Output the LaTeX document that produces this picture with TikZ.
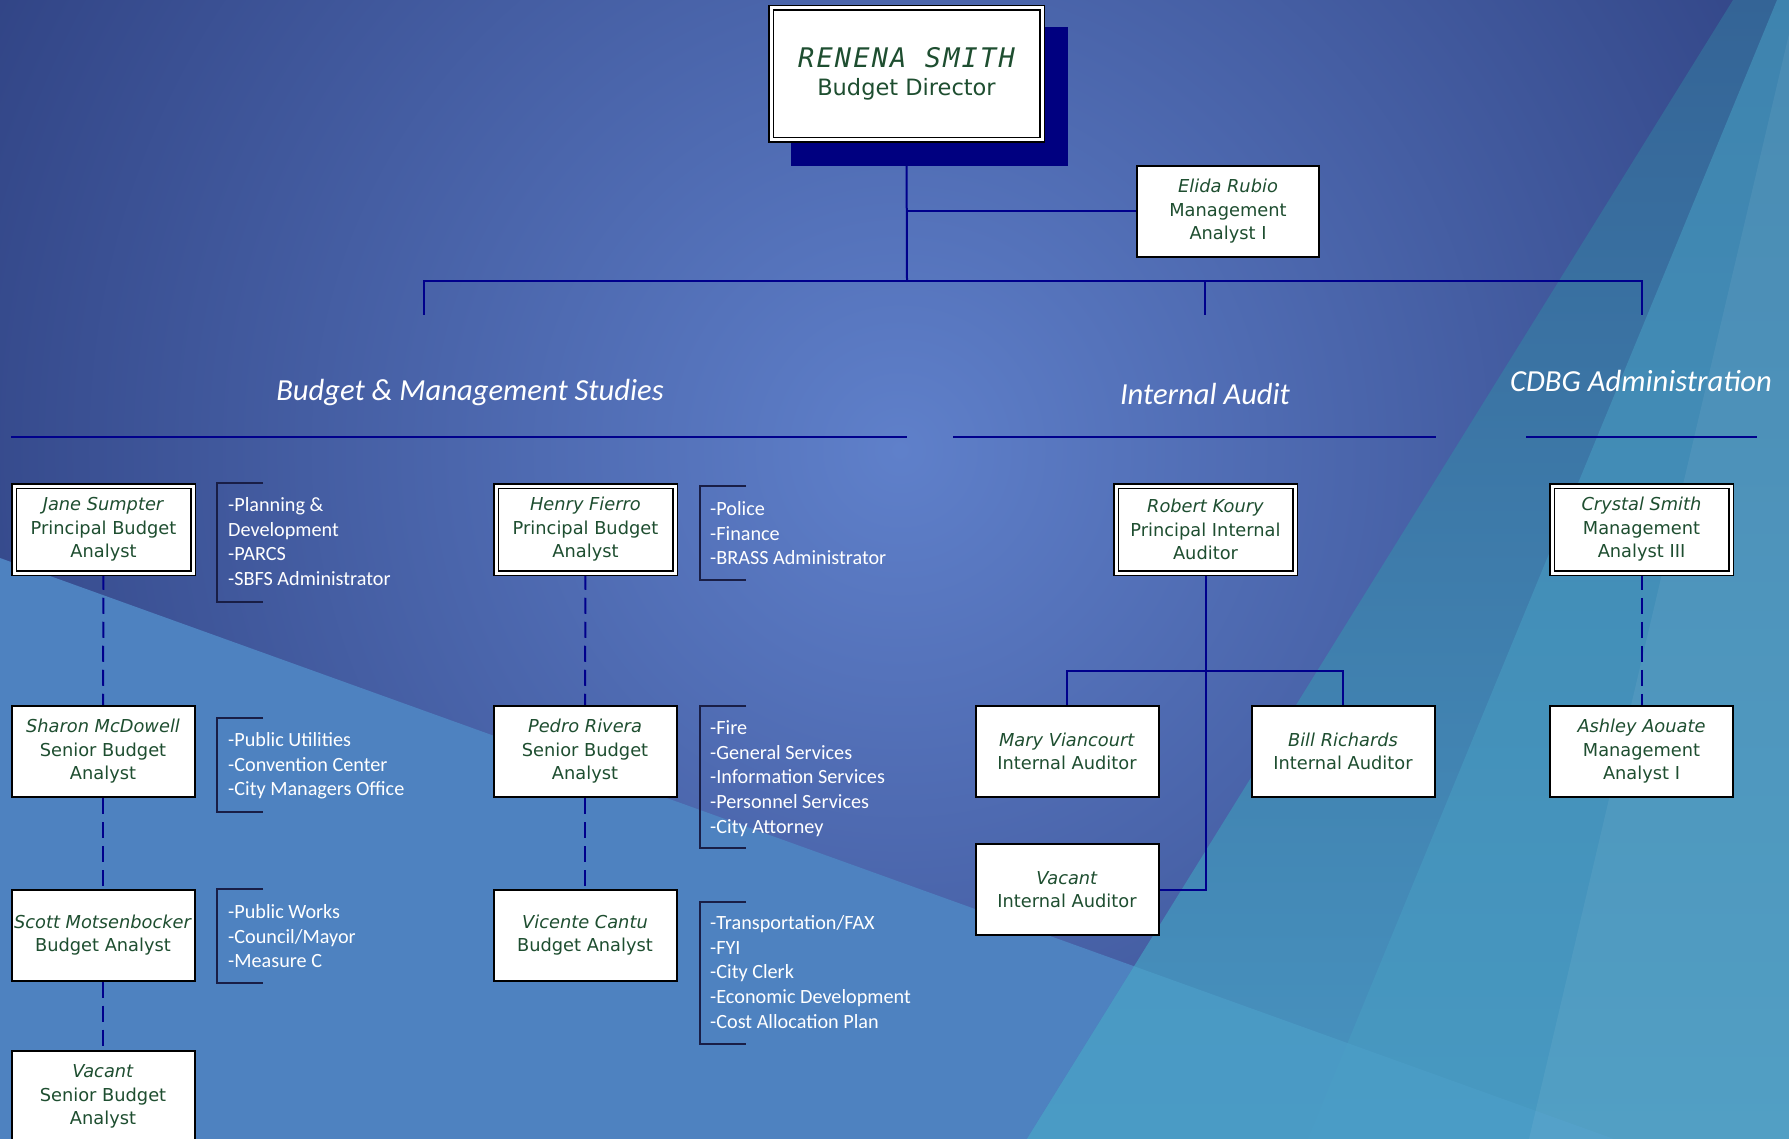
\documentclass[tikz,border=0pt]{standalone}
\usepackage{fontspec}
\setmainfont{DejaVu Sans}
\newfontfamily\carl{Carlito}
\newfontfamily\dmono{DejaVu Sans Mono}[LetterSpace=8]
\definecolor{navyln}{RGB}{0,0,140}
\definecolor{txtgreen}{RGB}{30,78,48}
\definecolor{shadownavy}{RGB}{0,0,128}
\definecolor{bracketc}{RGB}{25,30,70}
\definecolor{bgin}{RGB}{95,128,202}
\definecolor{bgout}{RGB}{32,46,108}
\definecolor{steel}{RGB}{78,130,192}
\definecolor{tealtop}{RGB}{52,100,150}
\definecolor{tealbot}{RGB}{72,148,192}
\definecolor{teallight}{RGB}{72,158,195}
\definecolor{tealmix}{RGB}{76,158,200}
\pgfdeclarelayer{back}
\pgfdeclarelayer{lines}
\pgfsetlayers{back,lines,main}
\tikzset{
  box/.style={draw=black, line width=2pt, fill=white, minimum width=183pt, minimum height=91pt,
    inner sep=0pt, align=center, text=txtgreen, font=\fontsize{17.8}{23.5}\selectfont},
  dbox/.style={box, line width=1.5pt, double=white, double distance=3pt,
    minimum width=179pt, minimum height=87pt},
  conn/.style={draw=navyln, line width=2pt},
  dconn/.style={draw=navyln, line width=2pt, dash pattern=on 16pt off 8pt},
  deptlist/.style={anchor=north west, inner sep=0pt, align=left, text=white,
    font=\carl\fontsize{20.2}{24.7}\selectfont},
  heading/.style={anchor=base, inner sep=0pt, text=white, font=\carl\itshape\fontsize{30.6}{36}\selectfont},
  bracket/.style={draw=bracketc, line width=1.6pt},
  uline/.style={draw=navyln, line width=2.2pt}
}
\begin{document}
\begin{tikzpicture}[x=1pt,y=-1pt]
\useasboundingbox (0,0) rectangle (1789,1139);
% ---------- background ----------
\begin{pgfonlayer}{back}
\begin{scope}
\clip (0,0) rectangle (1789,1139);
\fill[bgout] (0,0) rectangle (1789,1139);
\shade[inner color=bgin, outer color=bgout] (900,450) circle (1400pt);
\fill[steel] (0,558) -- (1614,1139) -- (0,1139) -- cycle;
\shade[top color=tealtop, bottom color=tealbot] (1733,0) -- (1789,0) -- (1789,1139) -- (1027,1139) -- cycle;
\fill[teallight, opacity=0.55] (1777,0) -- (1789,0) -- (1789,1139) -- (1308,1139) -- cycle;
\begin{scope}
\clip (0,558) -- (1614,1139) -- (0,1139) -- cycle;
\fill[tealmix, opacity=0.75] (1733,0) -- (1789,0) -- (1789,1139) -- (1027,1139) -- cycle;
\end{scope}
\fill[white, opacity=0.06] (1797,0) -- (1789,0) -- (1789,1139) -- (1529,1139) -- cycle;
\end{scope}
\end{pgfonlayer}
% ---------- director ----------
\fill[shadownavy] (791,27) rectangle (1068,166);
\node[dbox, minimum width=271pt, minimum height=132pt] (dir) at (906.5,74)
  {{\dmono\itshape\fontsize{27}{31}\selectfont RENENA SMITH}\\[4pt]{\fontsize{22.5}{28}\selectfont Budget Director}};
\node[box, minimum width=182pt] (elida) at (1228,211.5) {\textit{Elida Rubio}\\Management\\Analyst I};
% ---------- headings ----------
\node[heading] (hbms) at (470,401) {Budget \& Management Studies};
\node[heading] (hia) at (1205,405) {Internal Audit};
\node[heading] (hcdbg) at (1641,392) {CDBG Administration};
\draw[uline] (11,437) -- (907,437);
\draw[uline] (953,437) -- (1436,437);
\draw[uline] (1526,437) -- (1757,437);
% ---------- boxes ----------
\node[dbox] (jane) at (103.5,529.5) {\textit{Jane Sumpter}\\Principal Budget\\Analyst};
\node[dbox] (henry) at (585.5,529.5) {\textit{Henry Fierro}\\Principal Budget\\Analyst};
\node[dbox] (koury) at (1205.5,529.5) {\textit{Robert Koury}\\Principal Internal\\Auditor};
\node[dbox] (crystal) at (1641.5,529.5) {\textit{Crystal Smith}\\Management\\Analyst III};
\node[box] (sharon) at (103,751.5) {\textit{Sharon McDowell}\\Senior Budget\\Analyst};
\node[box] (pedro) at (585,751.5) {\textit{Pedro Rivera}\\Senior Budget\\Analyst};
\node[box] (mary) at (1067,751.5) {\textit{Mary Viancourt}\\Internal Auditor};
\node[box] (bill) at (1343,751.5) {\textit{Bill Richards}\\Internal Auditor};
\node[box] (ashley) at (1641.5,751.5) {\textit{Ashley Aouate}\\Management\\Analyst I};
\node[box] (scott) at (103,935) {\textit{Scott Motsenbocker}\\Budget Analyst};
\node[box] (vicente) at (585,935) {\textit{Vicente Cantu}\\Budget Analyst};
\node[box] (vacia) at (1067,889.5) {\textit{Vacant}\\Internal Auditor};
\node[box] (vacsba) at (103,1096.5) {\textit{Vacant}\\Senior Budget\\Analyst};
% ---------- department lists ----------
\node[deptlist] (ljane) at (228,494) {\strut -Planning \&\\Development\\-PARCS\\-SBFS Administrator};
\node[deptlist] (lhenry) at (710,498) {\strut -Police\\-Finance\\-BRASS Administrator};
\node[deptlist] (lsharon) at (228,729) {\strut -Public Utilities\\-Convention Center\\-City Managers Office};
\node[deptlist] (lscott) at (228,901) {\strut -Public Works\\-Council/Mayor\\-Measure C};
\node[deptlist] (lpedro) at (710,717) {\strut -Fire\\-General Services\\-Information Services\\-Personnel Services\\-City Attorney};
\node[deptlist] (lvicente) at (710,912) {\strut -Transportation/FAX\\-FYI\\-City Clerk\\-Economic Development\\-Cost Allocation Plan};
\draw[bracket] (263,483) -- (217,483) -- (217,602) -- (263,602);
\draw[bracket] (746,486) -- (700,486) -- (700,580) -- (746,580);
\draw[bracket] (263,718) -- (217,718) -- (217,812) -- (263,812);
\draw[bracket] (263,889) -- (217,889) -- (217,983) -- (263,983);
\draw[bracket] (746,706) -- (700,706) -- (700,848) -- (746,848);
\draw[bracket] (746,902) -- (700,902) -- (700,1044) -- (746,1044);
% ---------- connectors ----------
\coordinate (bus) at (907,281);
\coordinate (bmstop) at (424,315);
\coordinate (iatop) at (1205,315);
\coordinate (cdbgtop) at (1642,315);
\coordinate (audbus) at (1205,671);
\begin{pgfonlayer}{lines}
\draw[conn] (dir.south) -- (bus);
\draw[conn] (elida.west) -- (elida.west -| dir.south);
\draw[conn] (bmstop) |- (bus) -| (cdbgtop);
\draw[conn] (iatop) -- (iatop |- bus);
\draw[conn] (koury.south) |- (vacia.east);
\draw[conn] (mary.north) |- (audbus) -| (bill.north);
\draw[dconn] (jane.south) -- (sharon.north);
\draw[dconn] (sharon.south) -- (scott.north);
\draw[dconn] (scott.south) -- (vacsba.north);
\draw[dconn] (henry.south) -- (pedro.north);
\draw[dconn] (pedro.south) -- (vicente.north);
\draw[dconn] (crystal.south) -- (ashley.north);
\end{pgfonlayer}
\end{tikzpicture}
\end{document}
